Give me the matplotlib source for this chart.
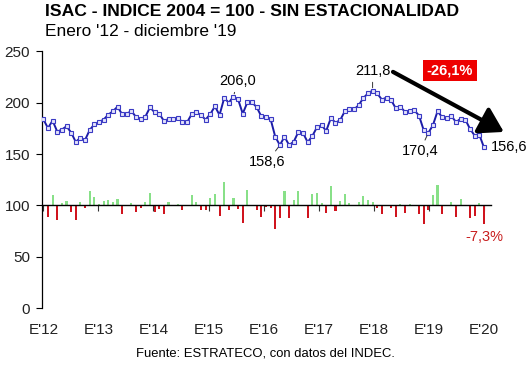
import matplotlib
matplotlib.use("Agg")
import matplotlib.pyplot as plt
import numpy as np

plt.rcParams['font.family'] = ['Liberation Sans', 'DejaVu Sans']

# ISAC desestacionalizado, enero 2012 - diciembre 2019 (indice 2004=100)
isac = [183.8, 175.3, 182.5, 171.8, 173.8, 177.0, 170.9, 161.7, 166.0, 163.7, 173.4, 178.9,
        181.2, 183.5, 188.3, 191.6, 196.1, 188.6, 189.3, 191.8, 186.0, 184.1, 186.4, 195.4,
        190.6, 189.3, 182.2, 184.1, 183.8, 185.0, 181.2, 180.9, 188.9, 190.9, 187.7, 183.5,
        188.9, 196.4, 188.0, 204.5, 200.0, 206.0, 203.2, 189.3, 200.3, 200.3, 195.7, 186.7,
        186.0, 184.1, 167.0, 158.6, 166.8, 158.7, 162.0, 171.5, 170.5, 161.5, 167.5, 176.0,
        178.0, 172.5, 185.0, 180.5, 183.0, 191.5, 193.5, 193.5, 197.5, 204.5, 209.0, 211.8,
        209.0, 203.0, 205.0, 202.5, 194.5, 196.0, 191.0, 192.0, 192.5, 187.5, 173.5, 170.4,
        178.0, 191.5, 186.0, 185.0, 187.0, 181.0, 184.5, 183.5, 174.5, 168.0, 169.0, 156.6]

# variacion mensual (%)
var_mensual = [0.0, -4.7, 4.0, -5.7, 0.8, 1.8, -2.7, -5.7, 1.4, -0.9, 5.7, 3.1,
               0.6, 1.7, 1.9, 1.4, 2.6, -3.5, 0.3, 0.8, -2.7, -1.2, 1.2, 4.9,
               -2.7, -1.4, -3.4, 1.3, -0.2, 0.5, -1.7, -0.2, 4.2, 1.4, -1.8, -1.8,
               2.8, 4.3, -4.3, 9.2, -2.0, 2.8, -1.4, -6.9, 6.0, 0.1, -2.0, -4.4,
               -0.5, -1.0, -9.3, -5.0, 5.4, -4.8, 2.2, 5.4, 0.2, -4.9, 4.3, 4.8,
               1.0, -3.1, 7.4, -2.2, 1.6, 4.5, 0.9, 0.1, 1.3, 3.5, 2.0, 1.3,
               -1.2, -3.2, 0.3, -1.0, -4.5, 0.6, -2.8, 0.6, 0.3, -3.2, -7.4, -1.8,
               4.2, 7.8, -3.5, -0.4, 1.3, -4.6, 2.6, -0.4, -5.1, -4.1, 0.8, -7.3]

anios = ["E'12", "E'13", "E'14", "E'15", "E'16", "E'17", "E'18", "E'19", "E'20"]

# puntos rotulados: (indice, texto, desplazamiento en pt)
rotulos = [(41, '206,0', (3, 11)), (51, '158,6', (-9, -12)), (71, '211,8', (0, 14)),
           (83, '170,4', (-6, -13))]

x = np.arange(len(isac))
esc = 2.5  # escala de las barras sobre la base 100

fig = plt.figure(figsize=(5.30, 3.72), dpi=100)
ax = fig.add_axes([0.080, 0.172, 0.847, 0.690])

colores = ['#d0141e' if v < 0 else '#88e088' for v in var_mensual]
ax.bar(x, esc * np.array(var_mensual), bottom=100, width=0.45, color=colores, zorder=2)

ax.plot(x, isac, color='#1c1ca8', lw=1.4, marker='s', ms=3.4, mfc='#e4e4fa',
        mec='#3a3ac4', mew=0.8, zorder=3)

ax.set_xlim(-0.2, 96.6)
ax.set_ylim(0, 250)
ax.set_yticks(range(0, 251, 50))
ax.tick_params(axis='y', direction='out', length=4, width=0.8, labelsize=11,
               labelcolor='#222222', pad=5)

tpos = np.linspace(0, len(isac) - 1, len(anios))
ax.set_xticks(tpos)
ax.tick_params(axis='x', direction='out', length=4, width=0.8, labelbottom=False,
               color='#333333')
ax.spines['bottom'].set_position(('data', 100))
ax.spines['bottom'].set_linewidth(1.0)
ax.spines['left'].set_linewidth(0.9)
ax.spines['top'].set_visible(False)
ax.spines['right'].set_visible(False)

sec = ax.secondary_xaxis('bottom')
sec.set_xticks(tpos, labels=anios)
sec.tick_params(length=0, pad=11, labelsize=11, labelcolor='#222222')
sec.spines['bottom'].set_visible(False)

for i, txt, off in rotulos:
    ax.annotate(txt, xy=(x[i], isac[i]), xytext=off, textcoords='offset points',
                ha='center', va='center', fontsize=10.5,
                arrowprops=dict(arrowstyle='-', lw=0.7, color='#333333',
                                shrinkA=1, shrinkB=2))

ax.annotate('156,6', xy=(x[-1], isac[-1]), xytext=(5, 0), textcoords='offset points',
            ha='left', va='center', fontsize=10.5, annotation_clip=False)

ax.annotate('-7,3%', xy=(x[-1], 100 + esc * var_mensual[-1]), xytext=(0, -9),
            textcoords='offset points', ha='center', va='center', fontsize=10.5,
            color='#c81e1e', annotation_clip=False)

ax.annotate('', xy=(99.3, 171.5), xytext=(75.4, 230), annotation_clip=False,
            arrowprops=dict(arrowstyle='-|>,head_length=0.9,head_width=0.55',
                            lw=3.0, color='black', mutation_scale=16,
                            shrinkA=0, shrinkB=0))

ax.text(87.7, 231.5, '-26,1%', ha='center', va='center', fontsize=10.5,
        fontweight='bold', color='white',
        bbox=dict(boxstyle='square,pad=0.25', fc='#ee0000', ec='none'))

fig.text(45 / 530, 1 - 12 / 372, 'ISAC - INDICE 2004 = 100 - SIN ESTACIONALIDAD',
         ha='left', va='center', fontsize=12.6, fontweight='bold')
fig.text(45 / 530, 1 - 31 / 372, "Enero '12 - diciembre '19", ha='left', va='center',
         fontsize=12.4)
fig.text(265 / 530, 1 - 354 / 372, 'Fuente: ESTRATECO, con datos del INDEC.',
         ha='center', va='center', fontsize=9.4)

fig.savefig('out.png', dpi=100, facecolor='white')
